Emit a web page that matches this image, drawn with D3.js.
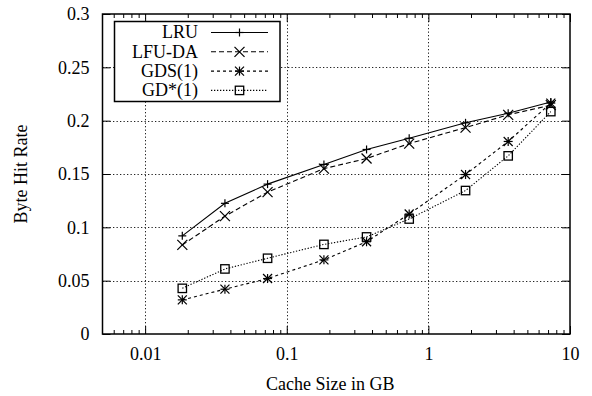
<!DOCTYPE html>
<html>
<head>
<meta charset="utf-8">
<script src="https://cdn.jsdelivr.net/npm/d3@7"></script>
<style>
  html, body { margin: 0; padding: 0; background: #fff; }
  svg { display: block; }
  text { font-family: "Liberation Serif", "DejaVu Serif", serif; fill: #000; }
</style>
</head>
<body>
<svg id="chart" width="592" height="396"></svg>
<script>
// Cache sizes (GB) and byte hit rate for each replacement policy
const cacheSizes = [0.0183, 0.0366, 0.0732, 0.183, 0.366, 0.732, 1.83, 3.66, 7.32];
const lru    = [0.092, 0.1225, 0.1405, 0.159, 0.173, 0.1835, 0.198, 0.207, 0.2175];
const lfuDa  = [0.0835, 0.1105, 0.133, 0.155, 0.1645, 0.1785, 0.1935, 0.2055, 0.2145];
const gds1   = [0.032, 0.042, 0.052, 0.0695, 0.0865, 0.1125, 0.1495, 0.1805, 0.2165];
const gdStar = [0.0428, 0.061, 0.071, 0.084, 0.091, 0.1078, 0.1345, 0.167, 0.2085];
const seriesNames = ["LRU", "LFU-DA", "GDS(1)", "GD*(1)"];
const xTickLabels = ["0.01", "0.1", "1", "10"];
const xTickValues = [0.01, 0.1, 1, 10];
const yTickValues = [0, 0.05, 0.1, 0.15, 0.2, 0.25, 0.3];
const yTickLabels = ["0", "0.05", "0.1", "0.15", "0.2", "0.25", "0.3"];

(function () {
const svg = d3.select("#chart");
const L = 102.5, R = 570, T = 14, B = 334;

const x = d3.scaleLog().domain([0.005, 10]).range([L, R]);
const y = d3.scaleLinear().domain([0, 0.3]).range([B, T]);

const series = [
  { name: seriesNames[0], values: lru,    dash: null,    marker: "plus" },
  { name: seriesNames[1], values: lfuDa,  dash: "5,3",   marker: "cross" },
  { name: seriesNames[2], values: gds1,   dash: "3,3",   marker: "star" },
  { name: seriesNames[3], values: gdStar, dash: "1.3,1.7", marker: "square" }
];

// dotted grid at major ticks
const grid = svg.append("g").attr("stroke", "#222").attr("stroke-width", 1)
  .attr("stroke-dasharray", "1.3,2.2").attr("fill", "none");
yTickValues.filter(v => v > 0 && v < 0.3).forEach(v => {
  grid.append("line").attr("x1", L).attr("x2", R)
    .attr("y1", Math.round(y(v)) + 0.5).attr("y2", Math.round(y(v)) + 0.5);
});
xTickValues.filter(v => v < 10).forEach(v => {
  grid.append("line").attr("y1", T).attr("y2", B)
    .attr("x1", Math.round(x(v)) + 0.5).attr("x2", Math.round(x(v)) + 0.5);
});

// axes with inward ticks on all four sides
const minorX = [];
[0.001, 0.01, 0.1, 1].forEach(d => {
  for (let k = 2; k <= 9; k++) {
    const v = d * k;
    if (v > 0.005 && v < 10) minorX.push(v);
  }
});

const axBottom = svg.append("g").attr("transform", `translate(0,${B})`)
  .call(d3.axisBottom(x).tickValues(xTickValues).tickSize(-8).tickPadding(18)
    .tickFormat((d, i) => xTickLabels[i]));
const axBottomMinor = svg.append("g").attr("transform", `translate(0,${B})`)
  .call(d3.axisBottom(x).tickValues(minorX).tickSize(-4).tickFormat(""));
const axTop = svg.append("g").attr("transform", `translate(0,${T})`)
  .call(d3.axisTop(x).tickValues(xTickValues).tickSize(-8).tickFormat(""));
const axTopMinor = svg.append("g").attr("transform", `translate(0,${T})`)
  .call(d3.axisTop(x).tickValues(minorX).tickSize(-4).tickFormat(""));
const axLeft = svg.append("g").attr("transform", `translate(${L},0)`)
  .call(d3.axisLeft(y).tickValues(yTickValues).tickSize(-8).tickPadding(13)
    .tickFormat((d, i) => yTickLabels[i]));
const axRight = svg.append("g").attr("transform", `translate(${R},0)`)
  .call(d3.axisRight(y).tickValues(yTickValues).tickSize(-8).tickFormat(""));

[axBottom, axBottomMinor, axTop, axTopMinor, axLeft, axRight].forEach(g => {
  g.select(".domain").remove();
  g.selectAll(".tick line").attr("stroke", "#000").attr("stroke-width", 1);
  g.selectAll("text").attr("font-size", 18).attr("font-family", "Liberation Serif");
});
axLeft.selectAll("text").attr("dy", "0.33em");
axBottom.selectAll("text").attr("dy", "0.45em");

// plot frame
svg.append("rect").attr("x", L).attr("y", T).attr("width", R - L).attr("height", B - T)
  .attr("fill", "none").attr("stroke", "#000").attr("stroke-width", 1.5);

// axis titles
svg.append("text").attr("x", (L + R) / 2 - 6).attr("y", 390)
  .attr("text-anchor", "middle").attr("font-size", 18).text("Cache Size in GB");
svg.append("text").attr("transform", `translate(27,${(T + B) / 2}) rotate(-90)`)
  .attr("text-anchor", "middle").attr("font-size", 18).text("Byte Hit Rate");

// marker shapes
const markerSize = { plus: 4, cross: 5, star: 4.5, square: 4.2 };
function drawMarker(g, type, cx, cy) {
  const s = markerSize[type];
  const p = g.append("g").attr("stroke", "#000").attr("stroke-width", 1.2).attr("fill", "none");
  if (type === "plus" || type === "star") {
    p.append("line").attr("x1", cx - s).attr("x2", cx + s).attr("y1", cy).attr("y2", cy);
    p.append("line").attr("x1", cx).attr("x2", cx).attr("y1", cy - s).attr("y2", cy + s);
  }
  if (type === "cross" || type === "star") {
    p.append("line").attr("x1", cx - s).attr("x2", cx + s).attr("y1", cy - s).attr("y2", cy + s);
    p.append("line").attr("x1", cx - s).attr("x2", cx + s).attr("y1", cy + s).attr("y2", cy - s);
  }
  if (type === "square") {
    p.append("rect").attr("x", cx - s).attr("y", cy - s).attr("width", 2 * s).attr("height", 2 * s)
      .attr("stroke-width", 1.3);
  }
}

// data lines and markers
const line = d3.line().x(d => x(d[0])).y(d => y(d[1]));
series.forEach(s => {
  const pts = cacheSizes.map((c, i) => [c, s.values[i]]);
  svg.append("path").datum(pts).attr("d", line)
    .attr("fill", "none").attr("stroke", "#000").attr("stroke-width", 1.1)
    .attr("stroke-dasharray", s.dash);
  const mg = svg.append("g");
  pts.forEach(p => drawMarker(mg, s.marker, x(p[0]), y(p[1])));
});

// legend
const lg = svg.append("g");
lg.append("rect").attr("x", 114.5).attr("y", 21.5).attr("width", 165.5).attr("height", 80)
  .attr("fill", "#fff").attr("stroke", "#000").attr("stroke-width", 1.5);
series.forEach((s, i) => {
  const cy = 32.5 + i * 19.3;
  lg.append("text").attr("x", 198).attr("y", cy).attr("dy", "0.33em")
    .attr("text-anchor", "end").attr("font-size", 18).text(s.name);
  lg.append("line").attr("x1", 211).attr("x2", 268).attr("y1", cy).attr("y2", cy)
    .attr("stroke", "#000").attr("stroke-width", 1.1).attr("stroke-dasharray", s.dash);
  drawMarker(lg, s.marker, 239.5, cy);
});
})();
</script>
</body>
</html>
